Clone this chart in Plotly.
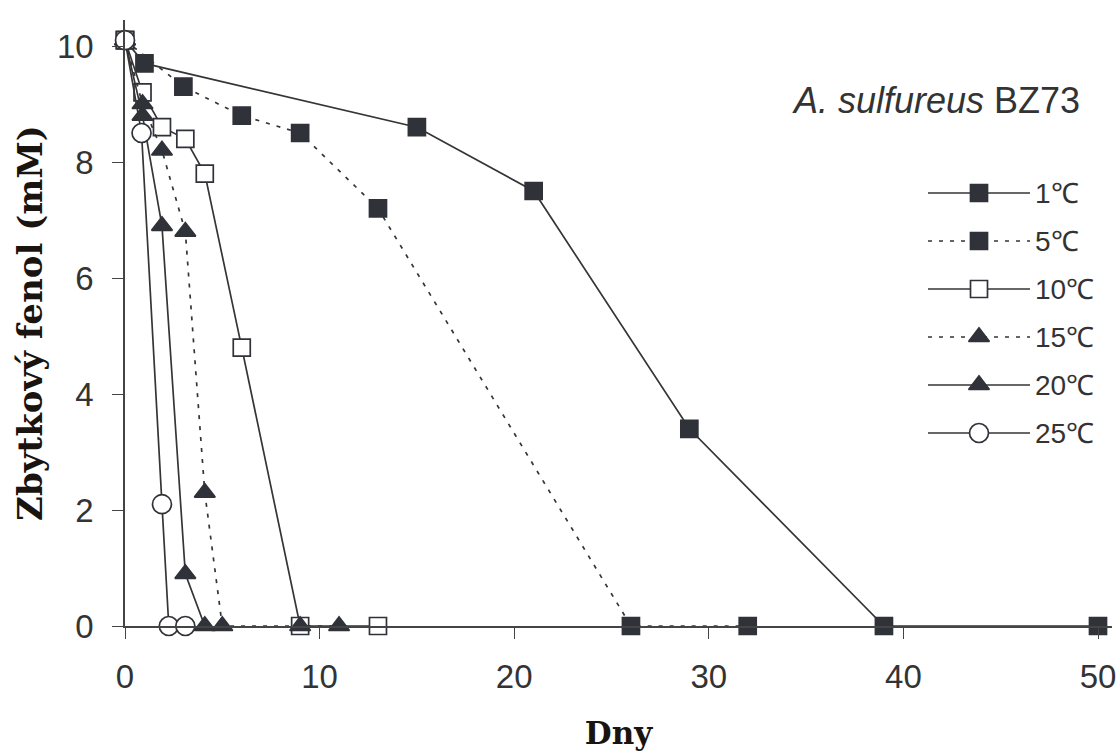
import plotly.graph_objects as go

# ---- data ----
x_1C = [0, 1, 15, 21, 29, 39, 50]
y_1C = [10.1, 9.7, 8.6, 7.5, 3.4, 0, 0]
x_5C = [0, 3, 6, 9, 13, 26, 32]
y_5C = [10.1, 9.3, 8.8, 8.5, 7.2, 0, 0]
x_10C = [0, 0.9, 1.9, 3.1, 4.1, 6, 9, 13]
y_10C = [10.1, 9.2, 8.6, 8.4, 7.8, 4.8, 0, 0]
x_15C = [0, 0.9, 1.9, 3.1, 4.1, 5, 9, 11]
y_15C = [10.1, 9.0, 8.2, 6.8, 2.3, 0, 0, 0]
x_20C = [0, 0.9, 1.9, 3.1, 4.1]
y_20C = [10.1, 8.8, 6.9, 0.9, 0]
x_25C = [0, 0.85, 1.9, 2.25, 3.1]
y_25C = [10.1, 8.5, 2.1, 0, 0]

labels = ["1℃", "5℃", "10℃", "15℃", "20℃", "25℃"]

DARK = "#30323a"
LINE = "#353535"
DOT = "4px,7px"

series = [
    (x_1C, y_1C, "solid", "square", DARK, 17),
    (x_5C, y_5C, DOT, "square", DARK, 17),
    (x_10C, y_10C, "solid", "square", "white", 17),
    (x_15C, y_15C, DOT, "triangle-up", DARK, 18),
    (x_20C, y_20C, "solid", "triangle-up", DARK, 18),
    (x_25C, y_25C, "solid", "circle", "white", 19),
]

W, H = 1120, 753
PX_L, PX_R, PX_T, PX_B = 125, 1112, 20, 626   # plot area in page pixels
L, R, T, B = PX_L, W - PX_R, PX_T, H - PX_B

fig = go.Figure()
for (xs, ys, dash, sym, fill, sz), name in zip(series, labels):
    fig.add_trace(go.Scatter(
        x=xs, y=ys, mode="lines+markers", name=name, cliponaxis=False,
        line=dict(color=LINE, width=1.7, dash=dash),
        marker=dict(symbol=sym, size=sz, color=fill, line=dict(color=DARK, width=1.7)),
        showlegend=False,
    ))

# ---- manual legend drawn on an overlay axis in page-pixel units ----
row_y = [193, 241, 289, 337, 385, 433]
for (xs, ys, dash, sym, fill, sz), name, ry in zip(series, labels, row_y):
    fig.add_trace(go.Scatter(
        x=[928, 1030], y=[ry, ry], mode="lines", xaxis="x2", yaxis="y2",
        line=dict(color=LINE, width=1.7, dash=dash), showlegend=False, hoverinfo="skip",
        cliponaxis=False,
    ))
    fig.add_trace(go.Scatter(
        x=[979], y=[ry], mode="markers", xaxis="x2", yaxis="y2",
        marker=dict(symbol=sym, size=sz, color=fill, line=dict(color=DARK, width=1.7)),
        showlegend=False, hoverinfo="skip", cliponaxis=False,
    ))
    fig.add_annotation(x=1033, y=ry, xref="x2", yref="y2", text=name, showarrow=False,
                       xanchor="left", yanchor="middle",
                       font=dict(family="Liberation Sans, Arial, sans-serif", size=28, color="#333333"))

fig.add_annotation(x=1082, y=100, xref="x2", yref="y2",
                   text="<i>A. sulfureus</i> BZ73", showarrow=False,
                   xanchor="right", yanchor="middle",
                   font=dict(family="Liberation Sans, Arial, sans-serif", size=36, color="#333333"))

tickfont = dict(family="Liberation Sans, Arial, sans-serif", size=33, color="#333333")
fig.update_layout(
    width=W, height=H,
    margin=dict(l=L, r=R, t=T, b=B, autoexpand=False),
    plot_bgcolor="white", paper_bgcolor="white",
    xaxis=dict(
        range=[0, (PX_R - PX_L) / 19.46], tickvals=[0, 10, 20, 30, 40, 50],
        showgrid=False, zeroline=False, showline=True, linecolor="#444", linewidth=1.5,
        ticks="outside", ticklen=11, tickcolor="#444", tickwidth=1.3, ticklabelstandoff=10,
        tickfont=tickfont, automargin=False,
        title=dict(text="Dny", standoff=28,
                   font=dict(family="DejaVu Serif, serif", size=31, color="#1a1410", weight="bold")),
    ),
    yaxis=dict(
        range=[0, (PX_B - PX_T) / 58.0], tickvals=[0, 2, 4, 6, 8, 10],
        showgrid=False, zeroline=False, showline=True, linecolor="#444", linewidth=1.5,
        ticks="outside", ticklen=11, tickcolor="#444", tickwidth=1.3, ticklabelstandoff=12,
        tickfont=tickfont, automargin=False,
        title=dict(text="Zbytkový fenol (mM)", standoff=4,
                   font=dict(family="DejaVu Serif, serif", size=34, color="#1a1410", weight="bold")),
    ),
    xaxis2=dict(range=[PX_L, PX_R], overlaying="x", visible=False, fixedrange=True),
    yaxis2=dict(range=[PX_B, PX_T], overlaying="y", visible=False, fixedrange=True),
)

fig.write_html(
    "out.html",
    config={"displayModeBar": False},
    post_script="document.body.style.margin='0';document.body.style.overflow='hidden';",
)
